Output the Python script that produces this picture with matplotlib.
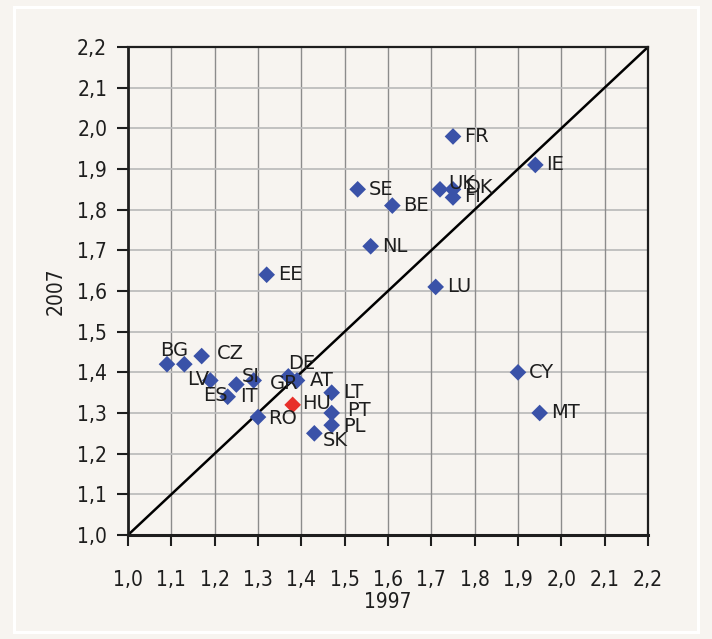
import matplotlib
matplotlib.use("Agg")
import matplotlib.pyplot as plt
from matplotlib.patches import Rectangle
from matplotlib.ticker import FixedLocator, FuncFormatter

# total fertility rate, 1997 vs 2007
countries = ["BG", "LV", "CZ", "ES", "SI", "IT", "GR", "RO", "DE", "AT", "HU", "LT", "PT", "PL", "SK",
             "EE", "SE", "NL", "BE", "LU", "UK", "DK", "FI", "FR", "CY", "IE", "MT"]
tfr_1997 = [1.09, 1.13, 1.17, 1.19, 1.25, 1.23, 1.29, 1.30, 1.37, 1.39, 1.38, 1.47, 1.47, 1.47, 1.43,
            1.32, 1.53, 1.56, 1.61, 1.71, 1.72, 1.75, 1.75, 1.75, 1.90, 1.94, 1.95]
tfr_2007 = [1.42, 1.42, 1.44, 1.38, 1.37, 1.34, 1.38, 1.29, 1.39, 1.38, 1.32, 1.35, 1.30, 1.27, 1.25,
            1.64, 1.85, 1.71, 1.81, 1.61, 1.85, 1.85, 1.83, 1.98, 1.40, 1.91, 1.30]
highlight = "HU"
ticks = [1.0, 1.1, 1.2, 1.3, 1.4, 1.5, 1.6, 1.7, 1.8, 1.9, 2.0, 2.1, 2.2]

# label offsets in points (dx, dy), as the labels were moved by hand
offsets = {"BG": (-5, 10), "LV": (2, -11), "CZ": (11, 2), "ES": (-5, -11), "SI": (4, 6),
           "IT": (9, 0), "GR": (12, -2), "RO": (7, -1), "DE": (0, 9), "AT": (9, 0),
           "HU": (7, 1), "LT": (8, 0), "PT": (11, 2), "PL": (8, -1), "SK": (6, -5),
           "UK": (6, 4), "DK": (9, 1), "FI": (8, 1)}

bg = "#f7f4f0"
blue = "#3a52a8"
red = "#e8302a"
dark = "#1e1e1e"

fig = plt.figure(figsize=(7.12, 6.39), dpi=100, facecolor=bg)
fig.patches.append(Rectangle((14 / 712, 7 / 639), 684 / 712, 625 / 639, transform=fig.transFigure,
                             fill=False, edgecolor="white", linewidth=2.2))
ax = fig.add_axes([128 / 712, 104 / 639, 520 / 712, 488 / 639])
ax.set_facecolor(bg)

ax.set_xlim(1.0, 2.2)
ax.set_ylim(1.0, 2.2)
ax.xaxis.set_major_locator(FixedLocator(ticks))
ax.yaxis.set_major_locator(FixedLocator(ticks))
fmt = FuncFormatter(lambda v, p: ("%.1f" % v).replace(".", ","))
ax.xaxis.set_major_formatter(fmt)
ax.yaxis.set_major_formatter(fmt)

for t in ticks[1:-1]:
    ax.axvline(t, color="#8c8c8c", linewidth=1.0, zorder=0)
    ax.axhline(t, color="#bdbdbd", linewidth=1.3, zorder=0)

for s in ax.spines.values():
    s.set_color(dark)
    s.set_linewidth(1.6)
ax.spines["left"].set_linewidth(2.0)
ax.spines["bottom"].set_linewidth(2.2)

ax.tick_params(axis="both", direction="out", length=8, width=1.5, color=dark, labelsize=15)
ax.tick_params(axis="x", pad=17)
ax.tick_params(axis="y", pad=7)
for lab in ax.get_xticklabels() + ax.get_yticklabels():
    lab.set_fontstretch("condensed")
    lab.set_color(dark)

ax.plot([1.0, 2.2], [1.0, 2.2], color="black", linewidth=1.8, zorder=2)

for c, x, y in zip(countries, tfr_1997, tfr_2007):
    col = red if c == highlight else blue
    ax.scatter([x], [y], marker="D", s=72, color=col, edgecolors="none", zorder=3)
    dx, dy = offsets.get(c, (8, 0))
    ax.annotate(c, (x, y), xytext=(dx, dy), textcoords="offset points", ha="left", va="center",
                fontsize=14, color=dark, zorder=4)

ax.set_xlabel("1997", fontsize=15, fontstretch="condensed", color=dark, labelpad=2)
ax.set_ylabel("2007", fontsize=15, fontstretch="condensed", color=dark, labelpad=8)

fig.savefig("out.png", dpi=100, facecolor=bg)
